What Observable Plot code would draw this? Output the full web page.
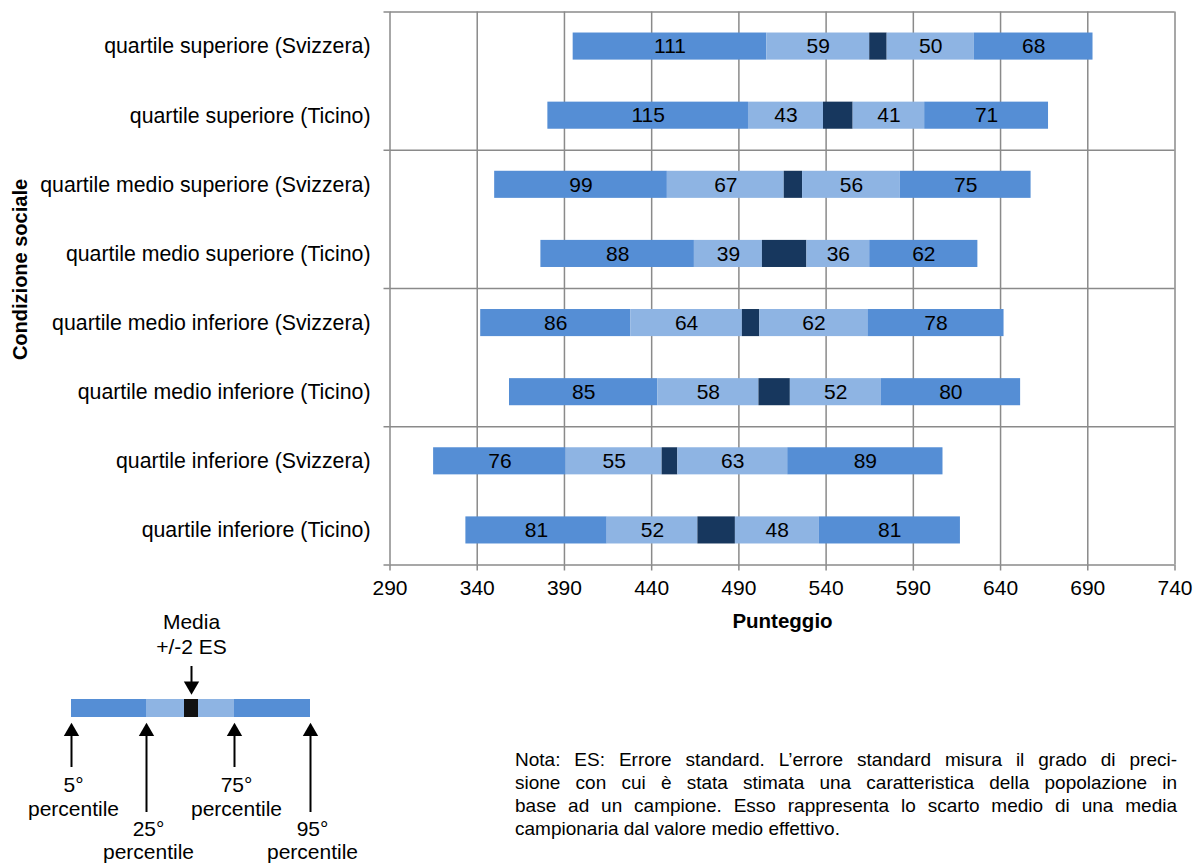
<!DOCTYPE html>
<html><head><meta charset="utf-8">
<script src="https://cdn.jsdelivr.net/npm/d3@7"></script>
<script src="https://cdn.jsdelivr.net/npm/@observablehq/plot@0.6"></script>
<style>
body{margin:0;background:#fff;font-family:"Liberation Sans",Arial,sans-serif;}
#page{position:relative;width:1194px;height:864px;overflow:hidden;background:#fff;}
#main{position:absolute;left:0;top:0;}
#legend{position:absolute;left:0;top:600px;}
#note{position:absolute;left:515px;top:748px;width:662px;font-size:19px;line-height:23px;color:#000;}
#note div{text-align:justify;text-align-last:justify;}
#note div.last{text-align-last:left;}
</style></head>
<body><div id="page"><div id="main"></div><div id="legend"></div>
<div id="note">
<div>Nota: ES: Errore standard. L’errore standard misura il grado di preci-</div>
<div>sione con cui è stata stimata una caratteristica della popolazione in</div>
<div>base ad un campione. Esso rappresenta lo scarto medio di una media</div>
<div class="last">campionaria dal valore medio effettivo.</div>
</div></div>
<script>
// ---- data ----
const categories = [
  "quartile superiore (Svizzera)",
  "quartile superiore (Ticino)",
  "quartile medio superiore (Svizzera)",
  "quartile medio superiore (Ticino)",
  "quartile medio inferiore (Svizzera)",
  "quartile medio inferiore (Ticino)",
  "quartile inferiore (Svizzera)",
  "quartile inferiore (Ticino)"
];
const p05       = [395, 380.5, 350, 376.5, 342, 358.5, 315, 333.5];
const seg5to25  = [111, 115, 99, 88, 86, 85, 76, 81];
const seg25toLo = [59, 43, 67, 39, 64, 58, 55, 52];
const segSE     = [10, 17, 10.5, 25.5, 10, 18, 9, 21.5];
const segHiTo75 = [50, 41, 56, 36, 62, 52, 63, 48];
const seg75to95 = [68, 71, 75, 62, 78, 80, 89, 81];
const xTicks = [290, 340, 390, 440, 490, 540, 590, 640, 690, 740];
const groupBreaks = [0, 2, 4, 6, 8];

// legend sample
const legendWidths = [75, 38, 14, 36, 76];
const legendKinds = ["outer", "inner", "mean", "inner", "outer"];
const legendPercentiles = [
  {num: "5°", word: "percentile", bound: 0, long: false},
  {num: "25°", word: "percentile", bound: 1, long: true},
  {num: "75°", word: "percentile", bound: 4, long: false},
  {num: "95°", word: "percentile", bound: 5, long: true}
];
const legendMeanLabel = ["Media", "+/-2 ES"];

// ---- styles ----
const colors = {outer: "#558ED5", inner: "#8EB4E3", se: "#17375E", mean: "#111111"};
const grid = "#8a8a8a";
const font = "'Liberation Sans', Arial, sans-serif";

// ---- main chart ----
const segKinds = ["outer", "inner", "se", "inner", "outer"];
const segs = [];
categories.forEach((c, i) => {
  const w = [seg5to25[i], seg25toLo[i], segSE[i], segHiTo75[i], seg75to95[i]];
  let x = p05[i];
  w.forEach((v, k) => {
    segs.push({row: i, x1: x, x2: x + v, kind: segKinds[k], label: k === 2 ? null : v});
    x += v;
  });
});
const rows = categories.map((c, i) => ({c, i}));
const barHalf = 0.196;

const main = Plot.plot({
  width: 1194, height: 640,
  marginTop: 11.5, marginBottom: 75.5, marginLeft: 389.5, marginRight: 19.5,
  x: {domain: [290, 740]},
  y: {domain: [0, 8], reverse: true},
  color: {type: "identity"},
  style: {fontFamily: font, fontSize: "21px", color: "#000", background: "#fff"},
  marks: [
    Plot.ruleX(xTicks, {stroke: grid, strokeWidth: 1.5}),
    Plot.ruleY(groupBreaks, {stroke: grid, strokeWidth: 1.5}),
    Plot.axisX({ticks: xTicks, tickSize: 6, tickPadding: 9, tickFormat: d => String(d), stroke: grid, strokeWidth: 1.5, label: null, fontSize: 21}),
    Plot.axisY({ticks: groupBreaks, tickSize: 6, tickFormat: () => "", stroke: grid, strokeWidth: 1.5, label: null}),
    Plot.rect(segs, {x1: "x1", x2: "x2", y1: d => d.row + 0.5 - barHalf, y2: d => d.row + 0.5 + barHalf, fill: d => colors[d.kind]}),
    Plot.text(segs.filter(d => d.label != null), {x: d => (d.x1 + d.x2) / 2, y: d => d.row + 0.5, text: d => String(d.label), fill: "#000", fontSize: 21}),
    Plot.text(rows, {x: 290, y: d => d.i + 0.5, text: "c", textAnchor: "end", dx: -19.5, fill: "#000", fontSize: 21.3}),
    Plot.text(["Punteggio"], {frameAnchor: "bottom", dy: 56.5, textAnchor: "middle", lineAnchor: "middle", fontWeight: "bold", fontSize: 20.5, fill: "#000"}),
    Plot.text(["Condizione sociale"], {frameAnchor: "left", rotate: -90, dx: -369, dy: -19, textAnchor: "middle", lineAnchor: "middle", fontWeight: "bold", fontSize: 20, fill: "#000"})
  ]
});
document.getElementById("main").appendChild(main);

// ---- legend diagram ----
const bounds = [0];
legendWidths.forEach(w => bounds.push(bounds[bounds.length - 1] + w));
const lsegs = legendWidths.map((w, k) => ({x1: bounds[k], x2: bounds[k + 1], kind: legendKinds[k]}));
const meanX = (bounds[2] + bounds[3]) / 2;
const pcts = legendPercentiles.map(p => ({...p, x: bounds[p.bound]}));
const L = {barTop: 99, barBottom: 117, upTip: 122.5, shortEnd: 167, longEnd: 212, downTop: 66, downTip: 94, tri: 8.66};

const legend = Plot.plot({
  width: 400, height: 264,
  marginTop: 0, marginBottom: 0, marginLeft: 71, marginRight: 90,
  x: {domain: [0, bounds[bounds.length - 1]], axis: null},
  y: {domain: [0, 264], reverse: true, axis: null},
  color: {type: "identity"},
  style: {fontFamily: font, fontSize: "21px", color: "#000", background: "transparent", overflow: "visible"},
  marks: [
    Plot.rect(lsegs, {x1: "x1", x2: "x2", y1: L.barTop, y2: L.barBottom, fill: d => colors[d.kind]}),
    // down arrow to mean
    Plot.ruleX([meanX], {y1: L.downTop, y2: L.downTip - 10, stroke: "#000", strokeWidth: 2}),
    Plot.dot([meanX], {x: d => d, y: L.downTip - L.tri, symbol: "triangle", r: 5.7, rotate: 180, fill: "#000", stroke: null}),
    Plot.text(legendMeanLabel, {x: meanX, y: (d, i) => 21.7 + i * 25, text: d => d, fill: "#000", fontSize: 21}),
    // up arrows to percentiles
    Plot.ruleX(pcts, {x: "x", y1: L.upTip + 10, y2: d => d.long ? L.longEnd : L.shortEnd, stroke: "#000", strokeWidth: 2}),
    Plot.dot(pcts, {x: "x", y: L.upTip + L.tri, symbol: "triangle", r: 5.7, fill: "#000", stroke: null}),
    Plot.text(pcts, {x: "x", y: d => d.long ? 228.5 : 184.5, dx: 2, text: "num", fill: "#000", fontSize: 21}),
    Plot.text(pcts, {x: "x", y: d => d.long ? 251.5 : 208.5, dx: 2, text: "word", fill: "#000", fontSize: 21})
  ]
});
document.getElementById("legend").appendChild(legend);
</script>
</body></html>
